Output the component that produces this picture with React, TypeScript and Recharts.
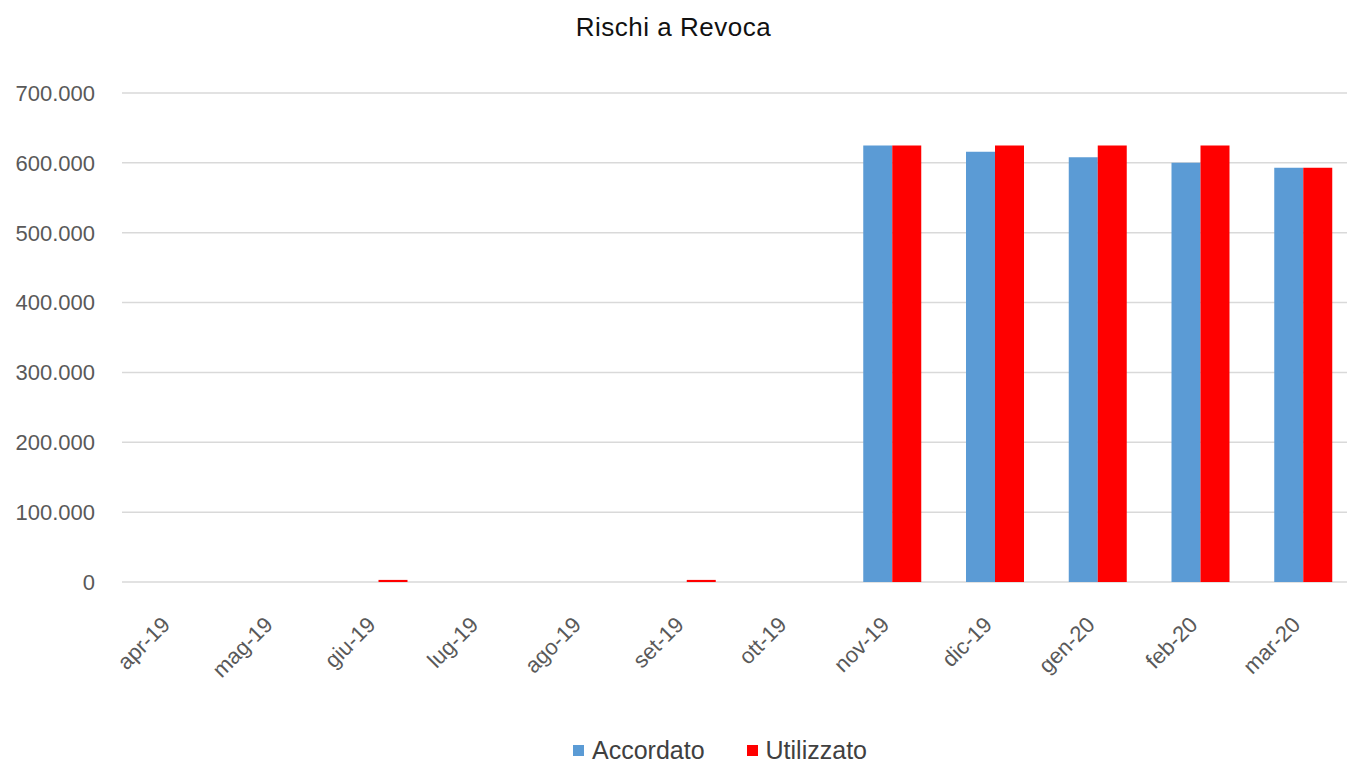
import React from "react";
import { BarChart, Bar, XAxis, YAxis, CartesianGrid } from "recharts";

const months = ["apr-19", "mag-19", "giu-19", "lug-19", "ago-19", "set-19", "ott-19", "nov-19", "dic-19", "gen-20", "feb-20", "mar-20"];
const accordato = [0, 0, 0, 0, 0, 0, 0, 625000, 616000, 608000, 600000, 593000];
const utilizzato = [0, 0, 3000, 0, 0, 3000, 0, 625000, 625000, 625000, 625000, 593000];
const yTicks = [0, 100000, 200000, 300000, 400000, 500000, 600000, 700000];
const series = [
    { key: "accordato", name: "Accordato", color: "#5B9BD5" },
    { key: "utilizzato", name: "Utilizzato", color: "#FF0000" },
];

const FONT = "'Liberation Sans', Arial, sans-serif";

const data = months.map((m, i) => ({ month: m, accordato: accordato[i], utilizzato: utilizzato[i] }));

// 700000 -> "700.000"
const fmt = (v: number) => String(v).replace(/\B(?=(\d{3})+(?!\d))/g, ".");

const MonthTick = (props: any) => {
    const { x, y, payload } = props;
    return (
        <g transform={`translate(${x - 2},${y + 44}) rotate(-45)`}>
            <text textAnchor="end" fontSize={22} fill="#595959" fontFamily={FONT}>
                {payload.value}
            </text>
        </g>
    );
};

export default function App() {
    return (
        <div style={{ position: "absolute", left: 0, top: 0, width: 1347, height: 765, overflow: "hidden", background: "#fff", fontFamily: FONT }}>
            {/* titolo */}
            <div style={{ position: "absolute", top: 12, left: 0, width: 1347, textAlign: "center", fontSize: 26, color: "#111", letterSpacing: 0.5 }}>
                Rischi a Revoca
            </div>

            <BarChart
                width={1367}
                height={765}
                data={data}
                margin={{ top: 93, right: 12, bottom: 83, left: 0 }}
                barGap={0}
                barSize={29}
            >
                <CartesianGrid vertical={false} stroke="#D9D9D9" strokeWidth={1.5} />
                <XAxis
                    dataKey="month"
                    axisLine={false}
                    tickLine={false}
                    tickSize={0}
                    tickMargin={0}
                    height={100}
                    interval={0}
                    tick={<MonthTick />}
                />
                <YAxis
                    width={122}
                    domain={[0, 700000]}
                    ticks={yTicks}
                    tickFormatter={fmt}
                    axisLine={false}
                    tickLine={false}
                    tickSize={0}
                    tickMargin={27}
                    tick={{ fontSize: 22, fill: "#595959", fontFamily: FONT }}
                />
                {series.map((s) => (
                    <Bar key={s.key} dataKey={s.key} name={s.name} fill={s.color} isAnimationActive={false} />
                ))}
            </BarChart>

            {/* legenda */}
            <div style={{ position: "absolute", left: 573, top: 737, display: "flex", alignItems: "center", fontSize: 25, lineHeight: "26px", color: "#404040" }}>
                {series.map((s, i) => (
                    <div key={s.key} style={{ display: "flex", alignItems: "center", marginLeft: i === 0 ? 0 : 42 }}>
                        <span style={{ display: "inline-block", width: 11, height: 11, background: s.color, marginRight: 8 }} />
                        <span>{s.name}</span>
                    </div>
                ))}
            </div>
        </div>
    );
}
